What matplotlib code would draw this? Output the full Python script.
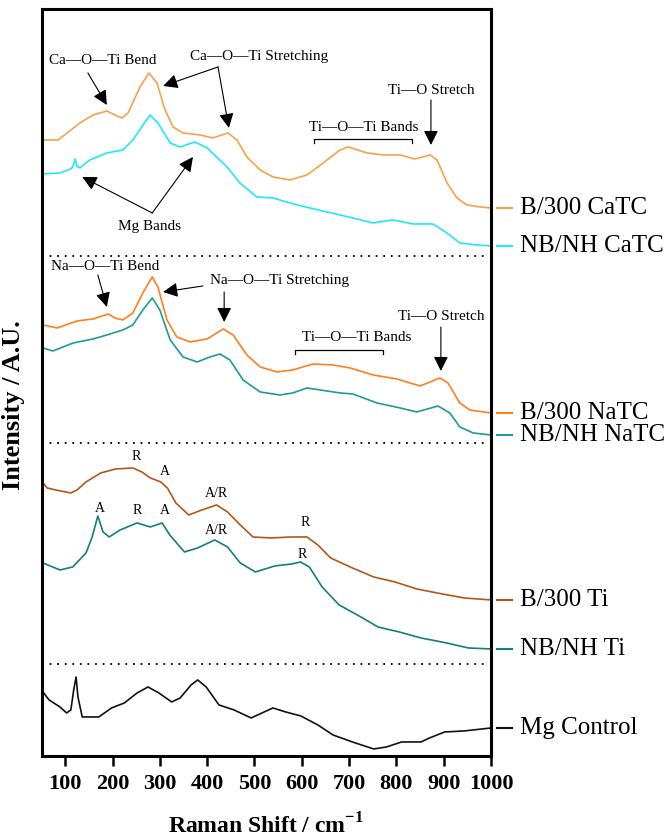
import matplotlib
matplotlib.use("Agg")
import matplotlib.pyplot as plt
from matplotlib.transforms import blended_transform_factory

plt.rcParams['font.family'] = ['Liberation Serif', 'DejaVu Serif']
plt.rcParams['mathtext.fontset'] = 'custom'
plt.rcParams['mathtext.rm'] = 'Liberation Serif'
plt.rcParams['mathtext.bf'] = 'Liberation Serif:bold'

# Raman spectra, stacked (arbitrary units, offsets already applied)
catc_b300_x = [53, 85, 104, 131, 159, 188, 205, 220, 233, 258, 277, 294, 311, 328, 349, 385, 412,
               444, 463, 484, 512, 539, 575, 611, 645, 681, 698, 738, 772, 808, 839, 871, 886,
               907, 928, 949, 977, 1000]
catc_b300_y = [616, 616, 623, 633, 641, 645, 641, 638, 643, 669, 683, 673, 646, 629, 623, 621, 618,
               623, 616, 599, 586, 579, 576, 581, 593, 606, 609, 603, 601, 601, 597, 601, 596,
               573, 558, 551, 549, 548]

catc_nbnh_x = [53, 89, 112, 117, 121, 125, 131, 152, 188, 222, 243, 279, 296, 322, 343, 374, 400,
               442, 469, 505, 539, 575, 617, 681, 708, 750, 793, 835, 877, 907, 934, 970, 1000]
catc_nbnh_y = [582, 583, 587, 590, 597, 590, 588, 596, 603, 606, 616, 641, 633, 613, 609, 614, 608,
               589, 573, 559, 558, 553, 548, 541, 538, 533, 536, 532, 532, 523, 513, 511, 510]

natc_b300_x = [53, 83, 125, 159, 191, 205, 222, 243, 264, 284, 296, 315, 336, 364, 400, 434, 455,
               484, 512, 548, 581, 624, 666, 702, 751, 801, 850, 892, 909, 934, 955, 1000]
natc_b300_y = [431, 428, 435, 437, 442, 438, 436, 443, 463, 479, 469, 436, 419, 414, 417, 427, 421,
               401, 389, 384, 386, 392, 391, 388, 381, 377, 370, 378, 373, 353, 346, 343]

natc_nbnh_x = [53, 74, 117, 159, 188, 222, 243, 264, 284, 300, 322, 349, 379, 406, 427, 448, 476,
               512, 554, 581, 611, 639, 681, 708, 759, 808, 843, 888, 913, 934, 962, 1000]
natc_nbnh_y = [408, 405, 413, 417, 421, 426, 431, 446, 458, 446, 416, 399, 394, 399, 402, 396, 376,
               364, 361, 363, 368, 366, 363, 362, 353, 348, 344, 350, 343, 329, 323, 321]

ti_b300_x = [53, 62, 80, 112, 125, 144, 175, 207, 243, 262, 280, 302, 316, 334, 361, 389, 420, 443,
             470, 497, 534, 579, 611, 634, 661, 707, 752, 797, 843, 897, 943, 1000]
ti_b300_y = [273, 268, 266, 263, 266, 274, 283, 287, 288, 284, 278, 274, 268, 253, 241, 246, 251, 244,
             231, 219, 218, 219, 219, 211, 198, 188, 179, 174, 167, 162, 158, 156]

ti_nbnh_x = [53, 89, 116, 144, 157, 169, 180, 193, 216, 252, 280, 305, 321, 352, 380, 416, 443, 470,
             502, 543, 579, 597, 616, 643, 679, 725, 761, 806, 852, 906, 952, 1000]
ti_nbnh_y = [193, 186, 189, 203, 219, 240, 224, 219, 226, 233, 229, 233, 221, 204, 208, 216, 209, 193,
             184, 190, 192, 194, 189, 169, 151, 139, 129, 124, 118, 113, 108, 107]

mg_x = [53, 66, 89, 103, 112, 118, 123, 127, 136, 171, 198, 225, 252, 275, 298, 325, 343, 366, 380,
        398, 425, 457, 493, 516, 539, 566, 598, 634, 666, 707, 752, 779, 811, 852, 870, 902, 943, 1000]
mg_y = [64, 56, 49, 43, 46, 66, 79, 59, 39, 39, 48, 53, 63, 69, 63, 54, 58, 71, 76,
        69, 51, 46, 38, 43, 48, 44, 40, 31, 21, 14, 7, 9, 14, 14, 18, 24, 25, 28]

series = [
    ("B/300 CaTC", catc_b300_x, catc_b300_y, "#F7A24B"),
    ("NB/NH CaTC", catc_nbnh_x, catc_nbnh_y, "#22E8F2"),
    ("B/300 NaTC", natc_b300_x, natc_b300_y, "#FF7F1E"),
    ("NB/NH NaTC", natc_nbnh_x, natc_nbnh_y, "#1F9A96"),
    ("B/300 Ti", ti_b300_x, ti_b300_y, "#B0581C"),
    ("NB/NH Ti", ti_nbnh_x, ti_nbnh_y, "#157F7B"),
    ("Mg Control", mg_x, mg_y, "#111111"),
]

separators = [500, 313, 92]
xticks = [100, 200, 300, 400, 500, 600, 700, 800, 900, 1000]

# Anatase / rutile markers
ti_marks = [
    ("R", 251, 299), ("A", 311, 284), ("A/R", 420, 262), ("R", 607, 233),
    ("A", 173, 247), ("R", 252, 245), ("A", 311, 245), ("A/R", 420, 225), ("R", 602, 201),
]

fig = plt.figure(figsize=(6.72, 8.38), dpi=100)
ax = fig.add_axes([0.0618, 0.0979, 0.6689, 0.8914])

for name, xs, ys, col in series:
    ax.plot(xs, ys, color=col, lw=1.2)

for y in separators:
    ax.plot([52, 992], [y, y], color="black", lw=1.3, ls=(0, (1, 3.2)))

# labels on the right of the frame
trans = blended_transform_factory(ax.transAxes, ax.transData)
for name, xs, ys, col in series:
    ax.plot([1.013, 1.047], [ys[-1], ys[-1]], color=col, lw=1.5, transform=trans, clip_on=False)
    ax.text(1.064, ys[-1], name, transform=trans, fontsize=18, va="center", ha="left")

arrow = dict(arrowstyle="-|>", color="black", lw=0.8, mutation_scale=22, shrinkA=0, shrinkB=0)
fs = 11

# CaTC annotations
ax.text(180, 695, "Ca—O—Ti Bend", fontsize=fs, ha="center", va="center")
ax.annotate("", xy=(188, 651), xytext=(148, 683), arrowprops=arrow)
ax.text(510, 699, "Ca—O—Ti Stretching", fontsize=fs, ha="center", va="center")
ax.annotate("", xy=(307, 670), xytext=(423, 689), arrowprops=arrow)
ax.annotate("", xy=(446, 628), xytext=(423, 689), arrowprops=arrow)
ax.text(279, 529, "Mg Bands", fontsize=fs, ha="center", va="center")
ax.annotate("", xy=(136, 579), xytext=(284, 543), arrowprops=arrow)
ax.annotate("", xy=(370, 599), xytext=(284, 543), arrowprops=arrow)
ax.text(730, 628, "Ti—O—Ti Bands", fontsize=fs, ha="center", va="center")
ax.plot([626, 626, 833, 833], [613, 617, 617, 613], color="black", lw=0.9)
ax.text(873, 665, "Ti—O Stretch", fontsize=fs, ha="center", va="center")
ax.annotate("", xy=(873, 611), xytext=(873, 656), arrowprops=arrow)

# NaTC annotations
ax.text(184, 489, "Na—O—Ti Bend", fontsize=fs, ha="center", va="center")
ax.annotate("", xy=(188, 449), xytext=(169, 481), arrowprops=arrow)
ax.text(552, 475, "Na—O—Ti Stretching", fontsize=fs, ha="center", va="center")
ax.annotate("", xy=(307, 464), xytext=(391, 470), arrowprops=arrow)
ax.annotate("", xy=(436, 434), xytext=(436, 464), arrowprops=arrow)
ax.text(717, 418, "Ti—O—Ti Bands", fontsize=fs, ha="center", va="center")
ax.plot([586, 586, 772, 772], [402, 406, 406, 402], color="black", lw=0.9)
ax.text(894, 439, "Ti—O Stretch", fontsize=fs, ha="center", va="center")
ax.annotate("", xy=(894, 385), xytext=(894, 429), arrowprops=arrow)

for lab, x, y in ti_marks:
    ax.text(x, y, lab, fontsize=10, ha="center", va="center")

ax.set_xlim(50, 1000)
ax.set_ylim(0, 747)
ax.set_xticks(xticks)
ax.set_yticks([])
for s in ax.spines.values():
    s.set_linewidth(2.2)
ax.tick_params(axis="x", direction="out", length=7, width=1.8, pad=6)
for lbl in ax.get_xticklabels():
    lbl.set_fontsize(16)
    lbl.set_fontweight("bold")

ax.set_xlabel(r"Raman Shift / cm$^{\mathbf{-1}}$", fontsize=17, fontweight="bold", labelpad=14)
ax.set_ylabel("Intensity / A.U.", fontsize=19, fontweight="bold")
ax.yaxis.set_label_coords(-0.036, 0.47)

fig.savefig("out.png", dpi=100)
